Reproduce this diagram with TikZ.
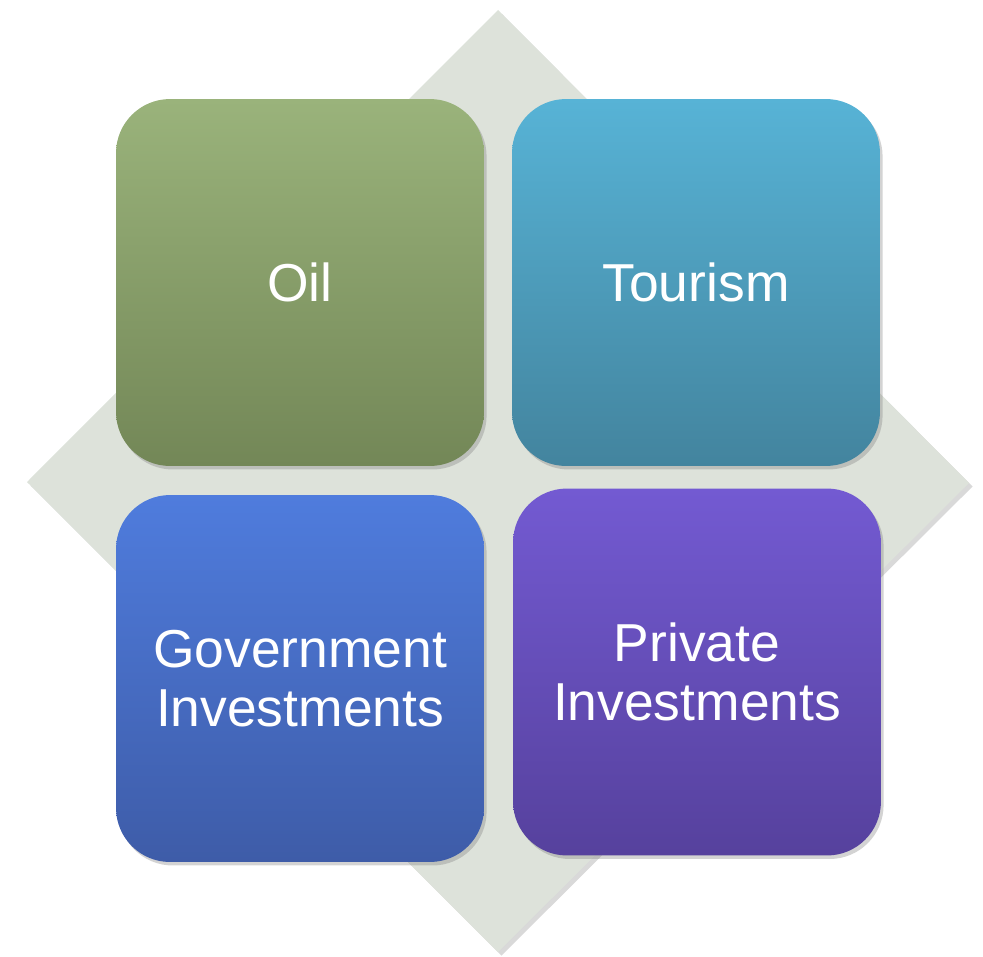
\documentclass[tikz,border=0pt]{standalone}
\usepackage{fontspec}
\setmainfont{Liberation Sans}
\usepackage{tikz}
\usetikzlibrary{shadows, positioning}
\usepackage{xcolor}
\definecolor{mygray}{HTML}{DDE2DA}
\definecolor{mygreentop}{HTML}{9AB37B}
\definecolor{mygreenbot}{HTML}{738757}
\definecolor{myteltop}{HTML}{57B3D6}
\definecolor{mytelbot}{HTML}{43849E}
\definecolor{mybluetop}{HTML}{4F7CDD}
\definecolor{mybluebot}{HTML}{3E5CA8}
\definecolor{mypurpletop}{HTML}{735AD2}
\definecolor{mypurplebot}{HTML}{56419D}
\tikzset{
	sector/.style={rounded corners=1.08cm, minimum width=7.36cm, minimum height=7.34cm, inner sep=0pt,
		align=center, text=white, font=\fontsize{30.4}{33.5}\selectfont,
		drop shadow={shadow xshift=1.5pt, shadow yshift=-2pt, opacity=0.35}}
}

\begin{document}
\begin{tikzpicture}[x=0.02cm,y=-0.02cm]
			\useasboundingbox (0,0) rectangle (983,956);
			% background diamond
			\fill [color=mygray, drop shadow={shadow xshift=2pt, shadow yshift=-2pt, opacity=0.3}] (498,10) -- (969,483) -- (498,952) -- (27,482) -- cycle;
			\node [sector, top color=mygreentop, bottom color=mygreenbot] (oil) at (300,282.5) {Oil};
			\node [sector, top color=myteltop, bottom color=mytelbot] (tourism) at (696,282.5) {Tourism};
			\node [sector, top color=mybluetop, bottom color=mybluebot] (government) at (300,678.5) {Government\\Investments};
			\node [sector, top color=mypurpletop, bottom color=mypurplebot] (private) at (697,672) {Private\\Investments};
		\end{tikzpicture}
\end{document}
